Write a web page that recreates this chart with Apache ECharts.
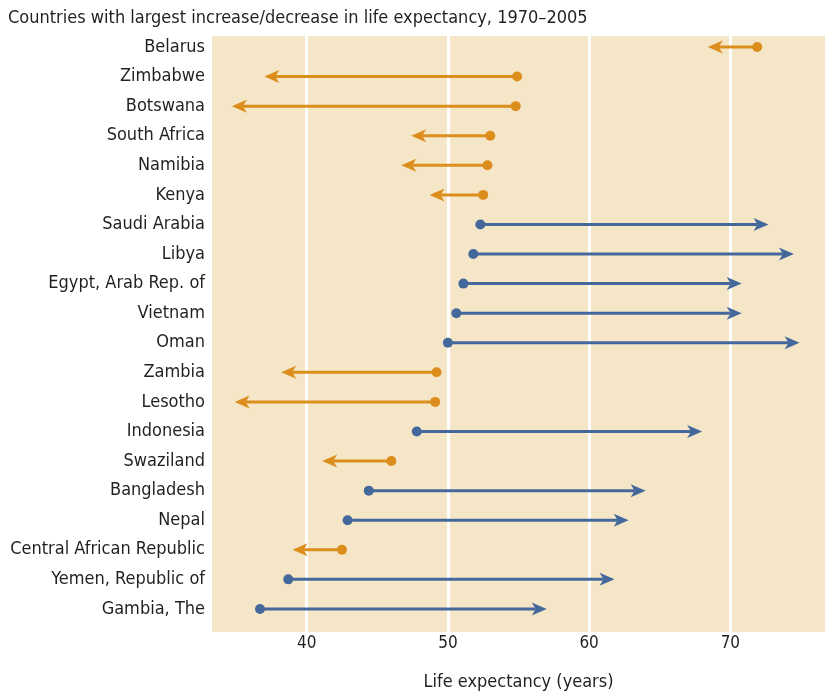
<!DOCTYPE html>
<html>
<head>
<meta charset="utf-8">
<script src="https://cdn.jsdelivr.net/npm/echarts@6/dist/echarts.min.js"></script>
<style>
html,body{margin:0;padding:0;background:#fff;}
#chart{width:833px;height:692px;}
</style>
</head>
<body>
<div id="chart"></div>
<script>
const countries = ["Belarus","Zimbabwe","Botswana","South Africa","Namibia","Kenya","Saudi Arabia","Libya","Egypt, Arab Rep. of","Vietnam","Oman","Zambia","Lesotho","Indonesia","Swaziland","Bangladesh","Nepal","Central African Republic","Yemen, Republic of","Gambia, The"];
const life1970 = [71.9,54.9,54.8,53.0,52.8,52.5,52.3,51.8,51.1,50.6,50.0,49.2,49.1,47.8,46.0,44.4,42.9,42.5,38.7,36.7];
const life2005 = [68.4,37.0,34.7,47.4,46.7,48.7,72.7,74.5,70.8,70.8,74.9,38.2,34.9,68.0,41.1,64.0,62.8,39.0,61.8,57.0];
const xTicks = [40,50,60,70];

const BLUE = '#44689b';
const ORANGE = '#dc8e1c';
const FONT = '"Liberation Sans Narrow", "DejaVu Sans Condensed", sans-serif';

const data = countries.map((c, i) => [i, life1970[i], life2005[i]]);

const chart = echarts.init(document.getElementById('chart'));
chart.setOption({
  animation: false,
  title: {
    text: 'Countries with largest increase/decrease in life expectancy, 1970\u20132005',
    left: 8, top: 9, padding: 0,
    textStyle: {fontFamily: FONT, fontSize: 18, fontWeight: 'normal', color: '#231f20'}
  },
  grid: {left: 212, right: 8, top: 36, bottom: 60, outerBoundsMode: 'none', containLabel: false,
    show: true, backgroundColor: '#f5e6c8', borderWidth: 0},
  xAxis: {
    type: 'value', min: 33.3, max: 76.7,
    name: 'Life expectancy (years)', nameLocation: 'middle', nameGap: 41,
    nameTextStyle: {fontFamily: FONT, fontSize: 18, color: '#231f20'},
    axisLine: {show: false}, axisTick: {show: false, customValues: xTicks},
    axisLabel: {customValues: xTicks, fontFamily: FONT, fontSize: 17, color: '#231f20', margin: 3},
    splitLine: {show: true, lineStyle: {color: '#ffffff', width: 3}}
  },
  yAxis: {
    type: 'value', inverse: true, min: -0.372, max: 19.78,
    axisLine: {show: false}, axisTick: {show: false},
    splitLine: {show: false},
    axisLabel: {customValues: countries.map((c, i) => i), formatter: v => countries[Math.round(v)],
      fontFamily: FONT, fontSize: 18, color: '#231f20', margin: 7}
  },
  series: [{
    type: 'custom',
    data: data,
    encode: {x: [1, 2], y: 0},
    renderItem: function (params, api) {
      const y = api.value(0), a = api.value(1), b = api.value(2);
      const p0 = api.coord([a, y]), p1 = api.coord([b, y]);
      const dir = p1[0] > p0[0] ? 1 : -1;
      const color = dir > 0 ? BLUE : ORANGE;
      const L = 15, W = 6.5, notch = 4;
      return {
        type: 'group',
        children: [
          {type: 'line', shape: {x1: p0[0], y1: p0[1], x2: p1[0] - dir * (L - notch), y2: p1[1]},
            style: {stroke: color, lineWidth: 3}},
          {type: 'polygon', shape: {points: [[p1[0], p1[1]], [p1[0] - dir * L, p1[1] - W], [p1[0] - dir * (L - notch), p1[1]], [p1[0] - dir * L, p1[1] + W]]},
            style: {fill: color}},
          {type: 'circle', shape: {cx: p0[0], cy: p0[1], r: 5}, style: {fill: color}}
        ]
      };
    }
  }]
});
</script>
</body>
</html>
